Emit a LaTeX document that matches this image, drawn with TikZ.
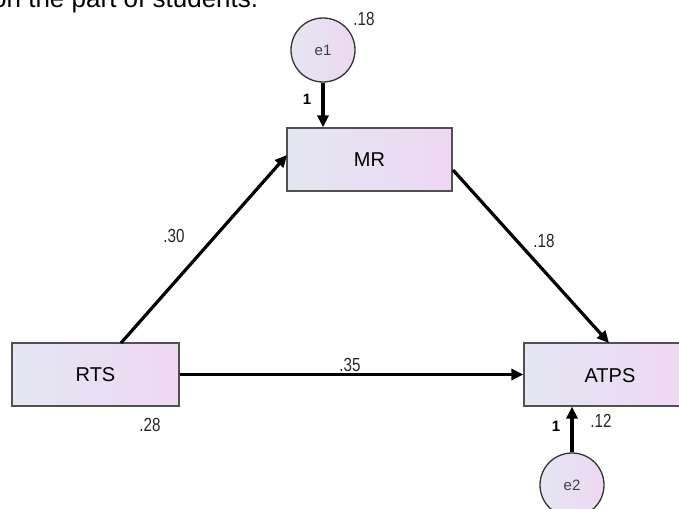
\documentclass[tikz,border=0pt]{standalone}
\usepackage{fontspec}
\setmainfont{Liberation Sans}
\newfontfamily\narrowfont[FakeStretch=0.8]{Liberation Sans}
\usetikzlibrary{arrows.meta,shadings}
\definecolor{boxleft}{HTML}{E4E6F2}
\definecolor{boxright}{HTML}{EED8F2}
\definecolor{edgegray}{HTML}{505050}
\begin{document}
\begin{tikzpicture}[x=1pt,y=-1pt,
  varbox/.style={draw=edgegray,line width=1.2pt,left color=boxleft,right color=boxright,minimum width=#1,minimum height=63pt,inner sep=0pt,font=\fontsize{20}{22}\selectfont},
  errc/.style={circle,draw=black!80,line width=1.3pt,left color=boxleft,right color=boxright,minimum size=64pt,inner sep=0pt,font=\fontsize{15}{17}\selectfont\color{black!75}},
  path/.style={line width=3.2pt,-{Triangle[length=12pt,width=11pt]}},
  coef/.style={font=\narrowfont\fontsize{19}{21}\selectfont\color{black!85},inner sep=0pt},
  one/.style={font=\bfseries\fontsize{15}{17}\selectfont,inner sep=0pt}]
\useasboundingbox (0,0) rectangle (679,508);
\clip (0,0) rectangle (679,508);
\node[anchor=base west,inner sep=0pt,font=\fontsize{26}{28}\selectfont] (title) at (-8,8) {on the part of students.};
\node[varbox=165pt] (MR) at (369.5,159.5) {MR};
\node[varbox=167pt] (RTS) at (95.5,374.5) {RTS};
\node[varbox=156pt] (ATPS) at (602,374.5) {};
\node[font=\fontsize{20}{22}\selectfont] (atpslab) at (610,376) {ATPS};
\node[errc] (e1) at (323,50) {e1};
\node[errc] (e2) at (572,485) {e2};
\draw[path] (e1.south) -- (e1.south |- MR.north);
\draw[path] (e2.north) -- (e2.north |- ATPS.south);
\coordinate (rtsout) at (121,343);
\coordinate (mrin) at (287,155);
\draw[path] (rtsout) -- (mrin);
\coordinate (mrout) at (453,170);
\coordinate (atpsin) at (609,343);
\draw[path] (mrout) -- (atpsin);
\draw[path] (RTS.east) -- (RTS.east -| ATPS.west);
\node[coef] (c18a) at (364,19) {.18};
\node[one] (one1) at (307,99) {1};
\node[coef] (c30) at (174,236) {.30};
\node[coef] (c18b) at (544,241) {.18};
\node[coef] (c35) at (350,365) {.35};
\node[coef] (c28) at (150,425) {.28};
\node[coef] (c12) at (601,421) {.12};
\node[one] (one2) at (556,426) {1};
\end{tikzpicture}
\end{document}
